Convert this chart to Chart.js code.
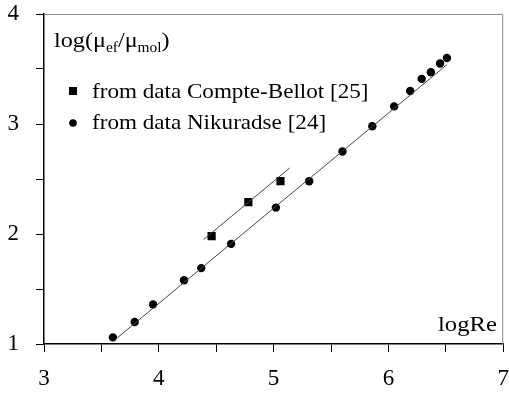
<!DOCTYPE html>
<html>
<head>
<meta charset="utf-8">
<script src="https://cdn.jsdelivr.net/npm/chart.js@4"></script>
<style>
  html, body { margin: 0; padding: 0; background: #fff; }
  #wrap { width: 509px; height: 396px; }
</style>
</head>
<body>
<div id="wrap"><canvas id="chart" width="509" height="396"></canvas></div>
<script>
// logRe / log(mu_ef/mu_mol)
const nikX = [3.60, 3.79, 3.95, 4.22, 4.37, 4.63, 5.02, 5.31, 5.60, 5.86, 6.05, 6.19, 6.29, 6.37, 6.45, 6.51];
const nikY = [1.06, 1.20, 1.36, 1.58, 1.69, 1.91, 2.24, 2.48, 2.75, 2.98, 3.16, 3.30, 3.41, 3.47, 3.55, 3.60];
const cbX = [4.46, 4.78, 5.06];
const cbY = [1.98, 2.29, 2.48];
// fitted lines (end points)
const nikFitX = [3.62, 6.51];
const nikFitY = [1.04, 3.54];
const cbFitX = [4.39, 5.14];
const cbFitY = [1.95, 2.60];

const xTicks = [3, 4, 5, 6, 7];
const yTicks = [1, 2, 3, 4];

const pts = (xs, ys) => xs.map((x, i) => ({ x: x, y: ys[i] }));

const serif = '"Liberation Serif", "Times New Roman", serif';

// text a bit wider than the font, like in the scan
function wideText(ctx, txt, x, y, sx) {
    ctx.save();
    ctx.translate(x, y);
    ctx.scale(sx, 1);
    ctx.fillText(txt, 0, 0);
    ctx.restore();
    return ctx.measureText(txt).width * sx;
}

// frame top/right, title, legend, axis name
const extras = {
    id: 'extras',
    afterDraw(chart) {
        const ctx = chart.ctx;
        const a = chart.chartArea;
        ctx.save();
        ctx.strokeStyle = '#8a8a8a';
        ctx.lineWidth = 1;
        ctx.beginPath();
        ctx.moveTo(a.left, a.top + 0.5);
        ctx.lineTo(a.right - 0.5, a.top + 0.5);
        ctx.lineTo(a.right - 0.5, a.bottom);
        ctx.stroke();

        ctx.fillStyle = '#000';
        ctx.textBaseline = 'alphabetic';
        ctx.textAlign = 'left';

        // y title with subscripts
        let x = 54;
        const parts = [['log(\u03bc', 22, 0], ['ef', 14, 5], ['/\u03bc', 22, 0], ['mol', 14, 5], [')', 22, 0]];
        parts.forEach(p => {
            ctx.font = p[1] + 'px ' + serif;
            x += wideText(ctx, p[0], x, 47 + p[2], 1.1);
        });

        // legend
        ctx.font = '22px ' + serif;
        ctx.fillRect(69, 87, 8, 8);
        wideText(ctx, 'from data Compte-Bellot [25]', 92, 98, 1.05);
        ctx.beginPath();
        ctx.arc(73, 123, 3.8, 0, Math.PI * 2);
        ctx.fill();
        wideText(ctx, 'from data Nikuradse [24]', 92, 129, 1.05);

        wideText(ctx, 'logRe', 438, 331, 1.12);
        ctx.restore();
    }
};

const ctx = document.getElementById('chart').getContext('2d');
const chart = new Chart(ctx, {
    type: 'scatter',
    data: {
        datasets: [
            {
                label: 'fit Compte-Bellot',
                data: pts(cbFitX, cbFitY),
                showLine: true,
                borderColor: '#444',
                borderWidth: 1,
                pointRadius: 0
            },
            {
                label: 'fit Nikuradse',
                data: pts(nikFitX, nikFitY),
                showLine: true,
                borderColor: '#444',
                borderWidth: 1,
                pointRadius: 0
            },
            {
                label: 'from data Compte-Bellot [25]',
                data: pts(cbX, cbY),
                pointStyle: 'rect',
                pointRadius: 5.8,
                backgroundColor: '#000',
                borderColor: '#000',
                borderWidth: 0
            },
            {
                label: 'from data Nikuradse [24]',
                data: pts(nikX, nikY),
                pointStyle: 'circle',
                pointRadius: 4.2,
                backgroundColor: '#000',
                borderColor: '#000',
                borderWidth: 0
            }
        ]
    },
    options: {
        responsive: false,
        animation: false,
        layout: { padding: { top: 14, right: 3, left: 0, bottom: 0 } },
        plugins: {
            legend: { display: false },
            tooltip: { enabled: false }
        },
        scales: {
            x: {
                type: 'linear',
                min: 3,
                max: 7,
                ticks: {
                    stepSize: 0.5,
                    color: '#000',
                    font: { family: serif, size: 23 },
                    padding: 13,
                    maxRotation: 0,
                    callback: v => xTicks.includes(v) ? String(v) : ''
                },
                grid: { drawOnChartArea: false, drawTicks: true, tickLength: 8, color: '#000' },
                border: { color: '#000', width: 1.5 },
                afterFit: s => { s.height = 52; s.paddingLeft = 0; s.paddingRight = 0; }
            },
            y: {
                type: 'linear',
                min: 1,
                max: 4,
                ticks: {
                    stepSize: 0.5,
                    color: '#000',
                    font: { family: serif, size: 23 },
                    padding: 17,
                    callback: v => yTicks.includes(v) ? String(v) : ''
                },
                grid: { drawOnChartArea: false, drawTicks: true, tickLength: 8, color: '#000' },
                border: { color: '#000', width: 1.5 },
                afterFit: s => { s.width = 44; s.paddingTop = 0; s.paddingBottom = 0; }
            }
        }
    },
    plugins: [extras]
});
</script>
</body>
</html>
